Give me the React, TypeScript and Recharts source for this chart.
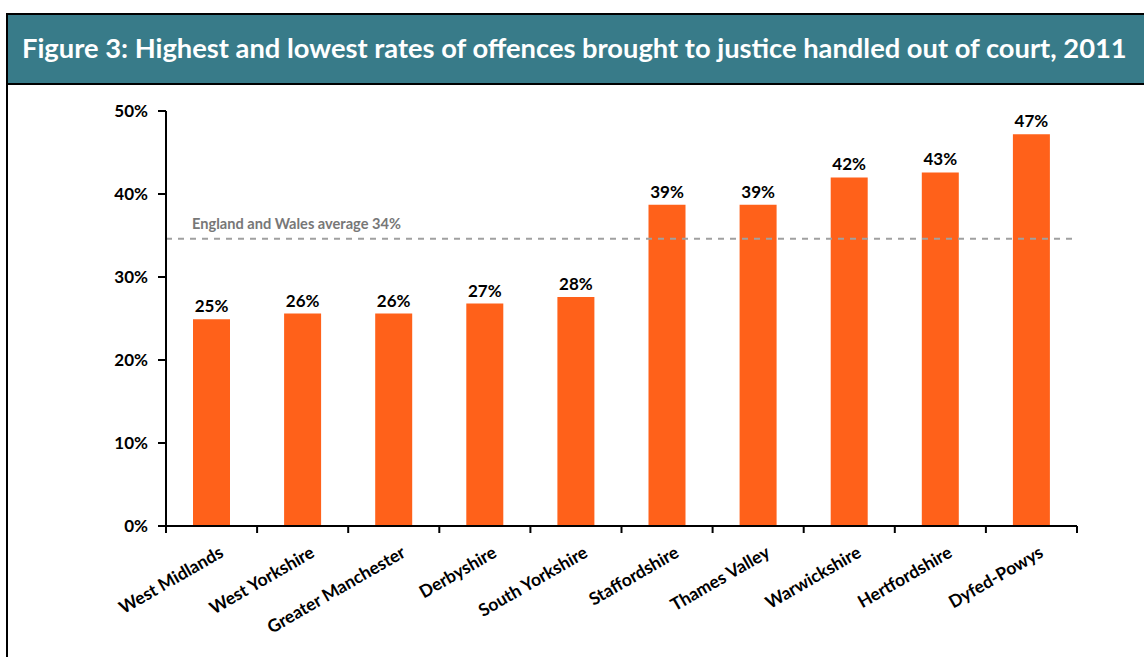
import { Bar, BarChart, LabelList, ReferenceLine, XAxis, YAxis } from "recharts";

const forces = [
  "West Midlands",
  "West Yorkshire",
  "Greater Manchester",
  "Derbyshire",
  "South Yorkshire",
  "Staffordshire",
  "Thames Valley",
  "Warwickshire",
  "Hertfordshire",
  "Dyfed-Powys",
];
const outOfCourtRate = [24.9, 25.6, 25.6, 26.8, 27.6, 38.7, 38.7, 42.0, 42.6, 47.2];
const yTicks = [0, 10, 20, 30, 40, 50];
const averageRate = 34.6;
const averageLabel = "England and Wales average 34%";
const title =
  "Figure 3: Highest and lowest rates of offences brought to justice handled out of court, 2011";

const data = forces.map((force, i) => ({ force, rate: outOfCourtRate[i] }));

const W = 1144;
const H = 657;
const margin = { top: 111, right: 67, bottom: 31, left: 106 };
const Y_AXIS_W = 60;
const BAND = (W - margin.left - margin.right - Y_AXIS_W) / forces.length;
const FONT = "Lato, 'Open Sans', sans-serif";

const XTick = (props: any) => {
  const { x, y, payload, index } = props;
  const half = BAND / 2;
  return (
    <g>
      <line x1={x - half} x2={x - half} y1={y} y2={y + 7} stroke="#000" strokeWidth={2} />
      {index === forces.length - 1 && (
        <line x1={x + half} x2={x + half} y1={y} y2={y + 7} stroke="#000" strokeWidth={2} />
      )}
      <text
        transform={`translate(${x + 13},${y + 30}) rotate(-30)`}
        textAnchor="end"
        fontFamily={FONT}
        fontWeight="bold"
        fontSize={17.5}
        fill="#000"
      >
        {payload.value}
      </text>
    </g>
  );
};

export default function App() {
  return (
    <div style={{ position: "absolute", left: 0, top: 0, width: W, height: H, background: "#fff", overflow: "hidden" }}>
      <div
        style={{
          position: "absolute",
          left: 6,
          top: 13,
          width: 1160,
          height: 660,
          borderLeft: "2px solid #000",
          borderTop: "2px solid #000",
        }}
      >
        <div
          style={{
            height: 68,
            background: "#387B89",
            borderBottom: "2px solid #000",
            color: "#fff",
            fontFamily: FONT,
            fontWeight: "bold",
            fontSize: 27.3,
            lineHeight: "66px",
            paddingLeft: 14,
            whiteSpace: "nowrap",
          }}
        >
          {title}
        </div>
      </div>
      <div style={{ position: "absolute", left: 0, top: 0 }}>
        <BarChart width={W} height={H} data={data} margin={margin}>
          <XAxis
            dataKey="force"
            height={100}
            interval={0}
            tickLine={false}
            tickSize={0}
            tickMargin={0}
            axisLine={{ stroke: "#000", strokeWidth: 2 }}
            tick={<XTick />}
          />
          <YAxis
            width={Y_AXIS_W}
            domain={[0, 50]}
            ticks={yTicks}
            interval={0}
            tickSize={8}
            tickMargin={10}
            tickFormatter={(v) => `${v}%`}
            axisLine={{ stroke: "#000", strokeWidth: 2 }}
            tickLine={{ stroke: "#000", strokeWidth: 2 }}
            tick={{ fill: "#000", fontSize: 17, fontWeight: "bold", fontFamily: FONT }}
          />
          <Bar dataKey="rate" fill="#FF611A" barSize={37} isAnimationActive={false}>
            <LabelList
              dataKey="rate"
              position="top"
              offset={7}
              formatter={(v: any) => `${Math.round(Number(v))}%`}
              fill="#000"
              fontSize={17}
              fontWeight="bold"
              fontFamily={FONT}
            />
          </Bar>
          <ReferenceLine
            y={averageRate}
            stroke="#A0A0A0"
            strokeWidth={2}
            strokeDasharray="6 6"
            label={(p: any) => (
              <text
                x={p.viewBox.x + 26}
                y={p.viewBox.y - 10}
                fill="#777"
                fontSize={14.6}
                fontWeight="bold"
                fontFamily={FONT}
              >
                {averageLabel}
              </text>
            )}
          />
        </BarChart>
      </div>
    </div>
  );
}
